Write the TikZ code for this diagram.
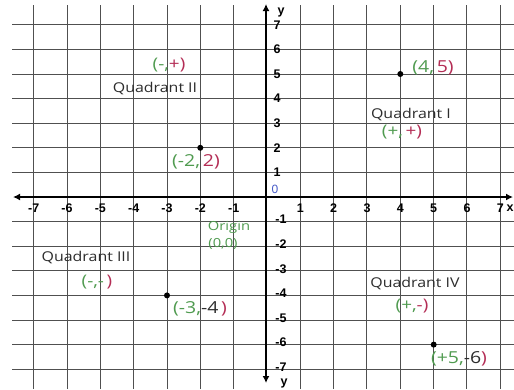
\documentclass[tikz,border=0pt]{standalone}
\usepackage{fontspec}
\setmainfont[FakeStretch=1.18]{Open Sans}
\newfontfamily\numfont{Liberation Sans}
\usetikzlibrary{arrows.meta}
\definecolor{cg}{RGB}{80,155,80}
\definecolor{cr}{RGB}{180,45,85}
\definecolor{qt}{RGB}{45,45,45}
\definecolor{gridc}{RGB}{80,80,80}
\definecolor{zb}{RGB}{70,90,200}
\tikzset{
  gridline/.style={draw=gridc, line width=1pt},
  axisline/.style={draw=black, line width=1.8pt, {Latex[length=7pt,width=7pt]}-{Latex[length=7pt,width=7pt]}},
  num/.style={font=\numfont\bfseries\fontsize{12.5}{13}\selectfont, inner sep=0pt},
  quad/.style={font=\fontsize{13.5}{14}\selectfont, text=qt, inner sep=0pt},
  sign/.style={font=\fontsize{16}{17}\selectfont, inner sep=0pt},
  coord/.style={font=\fontsize{16.5}{17}\selectfont, inner sep=0pt},
  orig/.style={font=\fontsize{12.5}{13}\selectfont, text=cg, inner sep=0pt},
  pt/.style={circle, fill=black, inner sep=0pt, minimum size=6pt}
}
\begin{document}
\begin{tikzpicture}[x=1pt,y=-1pt]
\useasboundingbox[fill=white] (0,0) rectangle (514,389);
% grid
\foreach \k in {-7,...,-1,1,2,...,7} {
  \draw[gridline] ({267+33.33*\k},5) -- ({267+33.33*\k},389);
  \draw[gridline] (12,{197-24.6*\k}) -- (514,{197-24.6*\k});
}
% axes
\coordinate (xl) at (13,197);
\coordinate (xr) at (513,197);
\coordinate (yt) at (266,4);
\coordinate (yb) at (266,383);
\draw[axisline] (xl) -- (xr);
\draw[axisline] (yb) -- (yt);
% x numbers
\foreach \k in {-7,...,-1} \node[num] (xn\k) at ({267+33.33*\k},208) {-\the\numexpr-\k\relax};
\foreach \k in {1,...,7} \node[num] (xp\k) at ({267+33.33*\k},208) {\k};
\node[num] (xlab) at (510,208) {x};
% y numbers
\foreach \k in {1,...,7} \node[num] (yp\k) at (277,{197-24.6*\k}) {\k};
\foreach \k in {1,...,7} \node[num] (yn\k) at (281,{195+24.6*\k}) {-\k};
\node[num, text=zb, font=\numfont\fontsize{12}{12}\selectfont] (zero) at (275,189) {0};
\node[num] (ytop) at (281,12) {y};
\node[num] (ybot) at (284,383) {y};
% points
\node[pt] (p1) at (200.3,147.8) {};
\node[pt] (p2) at (400.3,74) {};
\node[pt] (p3) at (167,295.4) {};
\node[pt] (p4) at (433.7,344.6) {};
% quadrant labels
\node[quad] (q2) at (155,89) {Quadrant II};
\node[quad] (q1) at (411,115) {Quadrant I};
\node[quad] (q3) at (86,258) {Quadrant III};
\node[quad] (q4) at (415,284) {Quadrant IV};
% sign labels
\node[sign] (s2) at (169,65) {\textcolor{cg}{(-,}\textcolor{cr}{+)}};
\node[sign] (s1) at (402,132) {\textcolor{cg}{(+,}\textcolor{cr}{\,+)}};
\node[sign] (s3) at (97,282) {\textcolor{cg}{(-,-}\textcolor{cr}{\,)}};
\node[sign] (s4) at (412,306) {\textcolor{cg}{(+,}\textcolor{cr}{-)}};
% coordinate labels
\node[coord] (c1) at (196,162) {\textcolor{cg}{(-2,}\textcolor{cr}{\,2)}};
\node[coord] (c2) at (433,68) {\textcolor{cg}{(4,}\textcolor{cr}{\,5)}};
\node[coord] (c3) at (200,309) {\textcolor{cg}{(-3,}\textcolor{qt}{-4}\textcolor{cr}{\,)}};
\node[coord] (c4) at (459,359) {\textcolor{cg}{(+5,}\textcolor{qt}{-6}\textcolor{cr}{)}};
% origin
\node[orig] (o1) at (229,227) {Origin};
\node[orig] (o2) at (223,244) {(0,0)};
\end{tikzpicture}
\end{document}
